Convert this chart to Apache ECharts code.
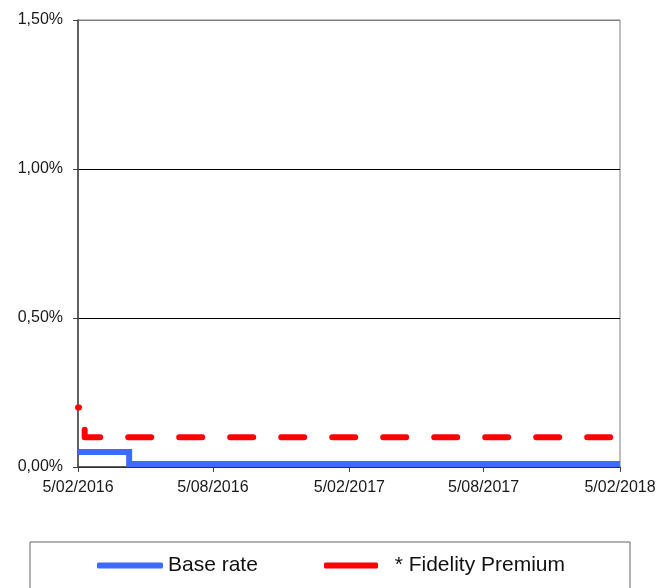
<!DOCTYPE html>
<html>
<head>
<meta charset="utf-8">
<script src="https://cdn.jsdelivr.net/npm/echarts@6/dist/echarts.min.js"></script>
<style>html,body{margin:0;padding:0;background:#fff}#c{width:669px;height:588px}</style>
</head>
<body>
<div id="c"></div>
<script>
// ---- data ----
const baseRateName = 'Base rate';
const premiumName = '* Fidelity Premium';
const baseRateDates = ['2016-02-05', '2016-04-14', '2018-02-05'];
const baseRateValues = [0.05, 0.01, 0.01];
const premiumDates = ['2016-02-05', '2016-02-14', '2018-02-05'];
const premiumValues = [0.20, 0.10, 0.10];
const xTickDates = ['2016-02-05', '2016-08-05', '2017-02-05', '2017-08-05', '2018-02-05'];
const yTicks = [0, 0.5, 1.0, 1.5];

function ts(s) { const p = s.split('-').map(Number); return new Date(p[0], p[1] - 1, p[2]).getTime(); }
function pad(n) { return (n < 10 ? '0' : '') + n; }
function fmtDate(v) { const d = new Date(v); return d.getDate() + '/' + pad(d.getMonth() + 1) + '/' + d.getFullYear(); }
function fmtPct(v) { return v.toFixed(2).replace('.', ',') + '%'; }

const font = 'Liberation Sans, Arial, sans-serif';
const chart = echarts.init(document.getElementById('c'), null, { renderer: 'canvas' });
chart.setOption({
  animation: false,
  backgroundColor: '#fff',
  grid: { left: 78, right: 49, top: 20, bottom: 121, show: true, borderColor: '#808080', borderWidth: 1, containLabel: false },
  xAxis: {
    type: 'value',
    min: ts(xTickDates[0]),
    max: ts(xTickDates[xTickDates.length - 1]),
    axisLine: { show: true, lineStyle: { color: '#404040', width: 1.5 } },
    axisTick: { show: true, length: 5, lineStyle: { color: '#404040' }, customValues: xTickDates.map(ts) },
    axisLabel: { customValues: xTickDates.map(ts), formatter: fmtDate, color: '#1a1a1a', fontSize: 16, fontFamily: font, margin: 13, showMinLabel: true, showMaxLabel: true },
    splitLine: { show: false }
  },
  yAxis: {
    type: 'value',
    min: yTicks[0],
    max: yTicks[yTicks.length - 1],
    interval: 0.5,
    axisLine: { show: true, lineStyle: { color: '#404040', width: 1.5 } },
    axisTick: { show: true, length: 5, lineStyle: { color: '#404040' } },
    axisLabel: { formatter: fmtPct, color: '#1a1a1a', fontSize: 16, fontFamily: font, margin: 15 },
    splitLine: { show: true, lineStyle: { color: ['#000', '#000', '#000', '#808080'], width: 1 } }
  },
  legend: [
    {
      data: [baseRateName], left: 97, top: 555, padding: 0, itemWidth: 66, itemHeight: 6, icon: 'roundRect',
      textStyle: { fontSize: 21, fontFamily: font, color: '#111' }
    },
    {
      data: [premiumName], left: 324, top: 555, padding: 0, itemWidth: 54, itemHeight: 6, icon: 'roundRect',
      formatter: '  {name}',
      textStyle: { fontSize: 21, fontFamily: font, color: '#111' }
    }
  ],
  graphic: [{
    type: 'rect', z: -1,
    shape: { x: 30, y: 542, width: 600, height: 60 },
    style: { fill: 'none', stroke: '#666', lineWidth: 1 }
  }],
  series: [
    {
      name: premiumName, type: 'line', step: 'end', showSymbol: false, symbol: 'none',
      data: premiumDates.map((d, i) => [ts(d), premiumValues[i]]),
      itemStyle: { color: '#ff0000' },
      lineStyle: { color: '#ff0000', width: 6, type: [23, 28], dashOffset: 22, cap: 'round', join: 'round' },
      z: 3
    },
    {
      name: baseRateName, type: 'line', step: 'end', showSymbol: false, symbol: 'none',
      data: baseRateDates.map((d, i) => [ts(d), baseRateValues[i]]),
      itemStyle: { color: '#3d6bff' },
      lineStyle: { color: '#3d6bff', width: 6, join: 'miter' },
      z: 4
    }
  ]
});
</script>
</body>
</html>
